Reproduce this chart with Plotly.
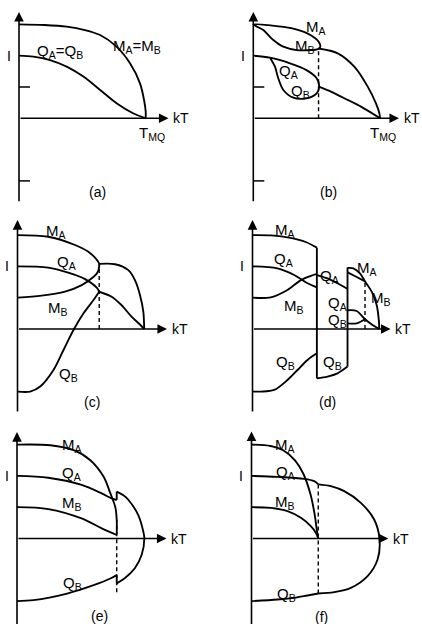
import plotly.graph_objects as go

W, H = 422, 624
PX_PER_T = 126.7    # screen pixels per unit of kT / T_MQ
PX_PER_OP = 62.6    # screen pixels per unit of order parameter

# ---------------- (a) ----------------
A_M_T = [0, 0.2, 0.376, 0.52, 0.64, 0.77, 0.876, 0.955, 0.987, 1.0, 1.0]
A_M = [1.5, 1.49, 1.464, 1.41, 1.33, 1.145, 0.879, 0.559, 0.293, 0.106, 0.0]
A_Q_T = [0, 0.113, 0.245, 0.376, 0.508, 0.64, 0.77, 0.9, 1.0]
A_Q = [1.0, 0.985, 0.93, 0.825, 0.666, 0.453, 0.24, 0.08, 0.0]

# ---------------- (b) ----------------
B_TC = 0.515
B_MLOOP_T = [0, 0.15, 0.30, 0.40, 0.46, 0.50, 0.525, 0.528, 0.515, 0.49, 0.447, 0.342, 0.237, 0.158, 0.079, 0]
B_MLOOP = [1.5, 1.48, 1.44, 1.38, 1.32, 1.26, 1.19, 1.14, 1.112, 1.095, 1.088, 1.09, 1.144, 1.25, 1.41, 1.5]
B_M_T = [0.515, 0.666, 0.797, 0.903, 0.968, 0.995, 1.0]
B_M = [1.115, 1.038, 0.825, 0.506, 0.24, 0.08, 0.0]
B_QLOOP_T = [0, 0.132, 0.29, 0.42, 0.5, 0.52, 0.5, 0.42, 0.316, 0.237, 0.197, 0.171, 0.132]
B_QLOOP = [1.0, 0.968, 0.878, 0.77, 0.64, 0.505, 0.40, 0.32, 0.33, 0.452, 0.64, 0.824, 0.968]
B_Q_T = [0.516, 0.613, 0.718, 0.85, 1.0]
B_Q = [0.506, 0.426, 0.32, 0.186, 0.0]

# ---------------- (c) ----------------
C_TC = 0.645
C_MAB_T = [0, 0.243, 0.454, 0.559, 0.62, 0.643, 0.645, 0.63, 0.586, 0.507, 0.375, 0.19, 0]
C_MAB = [1.5, 1.474, 1.342, 1.235, 1.12, 1.05, 1.0, 0.90, 0.81, 0.70, 0.596, 0.532, 0.5]
C_M_T = [0.645, 0.77, 0.875, 0.927, 0.967, 0.993, 1.0]
C_M = [1.04, 1.034, 0.94, 0.78, 0.54, 0.276, 0.0]
C_QA_T = [0, 0.243, 0.4, 0.53, 0.625, 0.645]
C_QA = [1.0, 0.98, 0.9, 0.8, 0.66, 0.595]
C_Q_T = [0.645, 0.743, 0.82, 0.9, 0.97, 1.0]
C_Q = [0.595, 0.516, 0.383, 0.197, 0.064, 0.0]
C_QB_T = [0, 0.1, 0.179, 0.284, 0.363, 0.442, 0.521, 0.6, 0.645]
C_QB = [-1.0, -1.0, -0.92, -0.655, -0.335, -0.016, 0.25, 0.463, 0.595]

# ---------------- (d) ----------------
D_T1, D_T2, D_T3 = 0.508, 0.75, 0.888
D_MA1_T = [0, 0.15, 0.3, 0.42, 0.508]
D_MA1 = [1.5, 1.495, 1.455, 1.39, 1.30]
D_QA1_T = [0, 0.197, 0.329, 0.434, 0.508]
D_QA1 = [1.0, 0.969, 0.863, 0.73, 0.666]
D_MB1_T = [0, 0.145, 0.276, 0.382, 0.46, 0.508]
D_MB1 = [0.5, 0.506, 0.623, 0.78, 0.847, 0.879]
D_QB1_T = [0, 0.066, 0.171, 0.276, 0.355, 0.434, 0.508]
D_QB1 = [-1.0, -1.0, -0.974, -0.815, -0.655, -0.495, -0.389]
D_JUMP1 = [1.30, -0.788]
D_UP2_T = [0.508, 0.592, 0.671, 0.75]
D_UP2 = [0.862, 0.809, 0.73, 0.639]
D_LO2_T = [0.508, 0.592, 0.671, 0.75]
D_LO2 = [-0.788, -0.76, -0.708, -0.60]
D_JUMP2 = [0.985, -0.60]
D_MA3_T = [0.751, 0.796, 0.848, 0.888, 0.941, 0.98, 0.998, 1.0]
D_MA3 = [0.975, 0.97, 0.89, 0.76, 0.596, 0.383, 0.117, 0.0]
D_MB3_T = [0.751, 0.822, 0.888]
D_MB3 = [0.905, 0.83, 0.76]
D_QA3_T = [0.751, 0.822, 0.888, 0.95, 1.0]
D_QA3 = [0.30, 0.288, 0.155, 0.06, 0.0]
D_QB3_T = [0.751, 0.822, 0.888]
D_QB3 = [0.09, 0.09, 0.155]

# ---------------- (e) ----------------
E_TC = 0.787
E_MA_T = [0, 0.263, 0.447, 0.579, 0.684, 0.737, 0.776, 0.787, 0.787]
E_MA = [1.5, 1.49, 1.41, 1.25, 0.985, 0.72, 0.5, 0.3, 0.06]
E_QA_T = [0, 0.247, 0.51, 0.668, 0.747, 0.787]
E_QA = [1.0, 0.97, 0.855, 0.72, 0.64, 0.615]
E_MB_T = [0, 0.247, 0.51, 0.668, 0.787]
E_MB = [0.5, 0.47, 0.32, 0.163, 0.056]
E_QB_T = [0, 0.13, 0.395, 0.605, 0.737, 0.787]
E_QB = [-1.0, -0.985, -0.879, -0.745, -0.639, -0.586]
E_ARC_T = [0.787, 0.84, 0.88, 0.957, 0.997, 1.005, 0.984, 0.93, 0.85, 0.787]
E_ARC = [0.75, 0.69, 0.615, 0.375, 0.11, 0.0, -0.26, -0.476, -0.636, -0.716]

# ---------------- (f) ----------------
F_TC = 0.527
F_MA_T = [0, 0.15, 0.25, 0.345, 0.41, 0.465, 0.498, 0.518, 0.527]
F_MA = [1.5, 1.478, 1.41, 1.245, 1.03, 0.71, 0.39, 0.10, 0.0]
F_QA_T = [0, 0.205, 0.416, 0.495, 0.527]
F_QA = [1.0, 0.985, 0.953, 0.916, 0.865]
F_MB_T = [0, 0.153, 0.284, 0.39, 0.468, 0.508, 0.527]
F_MB = [0.5, 0.49, 0.437, 0.33, 0.197, 0.09, 0.0]
F_QB_T = [0, 0.205, 0.337, 0.442, 0.527]
F_QB = [-1.0, -0.974, -0.948, -0.91, -0.879]
F_ARC_T = [0.527, 0.626, 0.732, 0.863, 0.968, 1.01, 0.995, 0.916, 0.784, 0.653, 0.527]
F_ARC = [0.865, 0.836, 0.756, 0.57, 0.304, 0.0, -0.335, -0.6, -0.788, -0.857, -0.879]

# panel geometry: cell (x0, x1, y0, y1) in px, origin (px), kT arrow tip, axis top, axis bottom
PANELS = {
    "a": dict(cell=(0, 211, 0, 210), origin=(19, 118.3), tip=1.18, top=1.70, bottom=-1.35, ticks=True),
    "b": dict(cell=(211, 422, 0, 210), origin=(253.3, 118.3), tip=1.15, top=1.70, bottom=-1.35, ticks=True),
    "c": dict(cell=(0, 211, 210, 420), origin=(17.5, 329), tip=1.18, top=1.74, bottom=-1.34, ticks=False),
    "d": dict(cell=(211, 422, 210, 420), origin=(252.5, 329), tip=1.09, top=1.74, bottom=-1.34, ticks=False),
    "e": dict(cell=(0, 211, 420, 624), origin=(17, 538.5), tip=1.18, top=1.70, bottom=-1.40, ticks=False),
    "f": dict(cell=(211, 422, 420, 624), origin=(251.5, 538.5), tip=1.08, top=1.71, bottom=-1.40, ticks=False),
}
ORDER = ["a", "b", "c", "d", "e", "f"]

FONT = "Liberation Sans, Arial, Helvetica, sans-serif"
INK = "black"
LW = 1.85

fig = go.Figure()
layout = dict(width=W, height=H, margin=dict(l=0, r=0, t=0, b=0),
              paper_bgcolor="white", plot_bgcolor="white", showlegend=False)
annotations = []

for i, key in enumerate(ORDER, start=1):
    p = PANELS[key]
    x0, x1, y0, y1 = p["cell"]
    ox, oy = p["origin"]
    sfx = "" if i == 1 else str(i)
    layout["xaxis" + sfx] = dict(domain=[x0 / W, x1 / W],
                                 range=[(x0 - ox) / PX_PER_T, (x1 - ox) / PX_PER_T],
                                 visible=False, fixedrange=True, anchor="y" + sfx)
    layout["yaxis" + sfx] = dict(domain=[1 - y1 / H, 1 - y0 / H],
                                 range=[(oy - y1) / PX_PER_OP, (oy - y0) / PX_PER_OP],
                                 visible=False, fixedrange=True, anchor="x" + sfx)
    p["xref"] = "x" + sfx
    p["yref"] = "y" + sfx
    # vertical (order parameter) axis with arrow
    annotations.append(dict(x=0, y=p["top"], ax=0, ay=p["bottom"], xref=p["xref"], yref=p["yref"],
                            axref=p["xref"], ayref=p["yref"], text="", showarrow=True,
                            arrowhead=2, arrowsize=1.2, arrowwidth=1.6, arrowcolor=INK, standoff=0))
    # horizontal kT axis with arrow
    annotations.append(dict(x=p["tip"], y=0, ax=0, ay=0, xref=p["xref"], yref=p["yref"],
                            axref=p["xref"], ayref=p["yref"], text="", showarrow=True,
                            arrowhead=2, arrowsize=1.2, arrowwidth=1.6, arrowcolor=INK, standoff=0))
    annotations.append(dict(x=p["tip"] + 0.02, y=0, xref=p["xref"], yref=p["yref"], text="kT",
                            showarrow=False, xanchor="left", yanchor="middle",
                            font=dict(family=FONT, size=14, color=INK)))
    annotations.append(dict(x=-0.05, y=1.0, xref=p["xref"], yref=p["yref"], text="I",
                            showarrow=False, xanchor="right", yanchor="middle",
                            font=dict(family=FONT, size=14, color=INK)))


def curve(key, xs, ys, smooth=True, dash=None, width=LW):
    p = PANELS[key]
    fig.add_trace(go.Scatter(
        x=xs, y=ys, mode="lines", xaxis=p["xref"], yaxis=p["yref"], hoverinfo="skip",
        line=dict(color=INK, width=width, shape="spline" if smooth else "linear",
                  smoothing=0.9, dash=dash)))


def vline(key, t, ys, dash=None, width=LW):
    curve(key, [t, t], ys, smooth=False, dash=dash, width=width)


def label(key, text, x, y, size=15, xanchor="center"):
    p = PANELS[key]
    annotations.append(dict(x=x, y=y, xref=p["xref"], yref=p["yref"], text=text, showarrow=False,
                            xanchor=xanchor, yanchor="middle",
                            font=dict(family=FONT, size=size, color=INK)))


# small ticks on the order-parameter axis
for key in ORDER:
    if PANELS[key]["ticks"]:
        for level in (0.5, -1.0):
            curve(key, [0, 0.087], [level, level], smooth=False, width=1.5)

# (a)
curve("a", A_M_T, A_M)
curve("a", A_Q_T, A_Q)
# (b)
vline("b", B_TC, [0, 1.115], dash="4px,3px", width=1.4)
curve("b", B_MLOOP_T, B_MLOOP)
curve("b", B_M_T, B_M)
curve("b", B_QLOOP_T, B_QLOOP)
curve("b", B_Q_T, B_Q)
# (c)
vline("c", C_TC, [0, 1.03], dash="4px,3px", width=1.4)
curve("c", C_MAB_T, C_MAB)
curve("c", C_M_T, C_M)
curve("c", C_QA_T, C_QA)
curve("c", C_Q_T, C_Q)
curve("c", C_QB_T, C_QB)
# (d)
vline("d", D_T3, [0, 0.76], dash="4px,3px", width=1.4)
curve("d", D_MA1_T, D_MA1)
curve("d", D_QA1_T, D_QA1)
curve("d", D_MB1_T, D_MB1)
curve("d", D_QB1_T, D_QB1)
vline("d", D_T1, D_JUMP1)
curve("d", D_UP2_T, D_UP2)
curve("d", D_LO2_T, D_LO2)
vline("d", D_T2, D_JUMP2)
curve("d", D_MA3_T, D_MA3)
curve("d", D_MB3_T, D_MB3)
curve("d", D_QA3_T, D_QA3)
curve("d", D_QB3_T, D_QB3)
# (e)
vline("e", E_TC, [-0.86, 0.3], dash="4px,3px", width=1.4)
curve("e", E_MA_T, E_MA)
curve("e", E_QA_T, E_QA)
curve("e", E_MB_T, E_MB)
curve("e", E_QB_T, E_QB)
curve("e", E_ARC_T, E_ARC)
vline("e", E_TC, [E_QA[-1], E_ARC[0]])
vline("e", E_TC, [E_QB[-1], E_ARC[-1]])
# (f)
vline("f", F_TC, [F_QB[-1], F_QA[-1]], dash="4px,3px", width=1.4)
curve("f", F_MA_T, F_MA)
curve("f", F_QA_T, F_QA)
curve("f", F_MB_T, F_MB)
curve("f", F_QB_T, F_QB)
curve("f", F_ARC_T, F_ARC)

# curve labels
label("a", "M<sub>A</sub>=M<sub>B</sub>", 0.935, 1.15)
label("a", "Q<sub>A</sub>=Q<sub>B</sub>", 0.32, 1.06)
label("a", "T<sub>MQ</sub>", 1.05, -0.24)
label("a", "(a)", 0.62, -1.18, size=14)

label("b", "M<sub>A</sub>", 0.495, 1.45)
label("b", "M<sub>B</sub>", 0.408, 1.15)
label("b", "Q<sub>A</sub>", 0.274, 0.75)
label("b", "Q<sub>B</sub>", 0.369, 0.43)
label("b", "T<sub>MQ</sub>", 1.02, -0.24)
label("b", "(b)", 0.59, -1.18, size=14)

label("c", "M<sub>A</sub>", 0.304, 1.55)
label("c", "Q<sub>A</sub>", 0.388, 1.07)
label("c", "M<sub>B</sub>", 0.322, 0.33)
label("c", "Q<sub>B</sub>", 0.40, -0.72)
label("c", "(c)", 0.588, -1.16, size=14)

label("d", "M<sub>A</sub>", 0.257, 1.58)
label("d", "Q<sub>A</sub>", 0.243, 1.11)
label("d", "M<sub>B</sub>", 0.33, 0.36)
label("d", "Q<sub>B</sub>", 0.264, -0.54)
label("d", "Q<sub>A</sub>", 0.608, 0.84)
label("d", "Q<sub>B</sub>", 0.633, -0.54)
label("d", "M<sub>A</sub>", 0.905, 0.96)
label("d", "M<sub>B</sub>", 1.014, 0.49)
label("d", "Q<sub>A</sub>", 0.669, 0.40)
label("d", "Q<sub>B</sub>", 0.669, 0.135)
label("d", "(d)", 0.594, -1.16, size=14)

label("e", "M<sub>A</sub>", 0.432, 1.49)
label("e", "Q<sub>A</sub>", 0.432, 1.045)
label("e", "M<sub>B</sub>", 0.438, 0.555)
label("e", "Q<sub>B</sub>", 0.438, -0.72)
label("e", "(e)", 0.655, -1.24, size=14)

label("f", "M<sub>A</sub>", 0.268, 1.49)
label("f", "Q<sub>A</sub>", 0.268, 1.06)
label("f", "M<sub>B</sub>", 0.268, 0.58)
label("f", "Q<sub>B</sub>", 0.278, -0.89)
label("f", "(f)", 0.554, -1.255, size=14)

layout["annotations"] = annotations
fig.update_layout(**layout)
fig.write_html("out.html")
